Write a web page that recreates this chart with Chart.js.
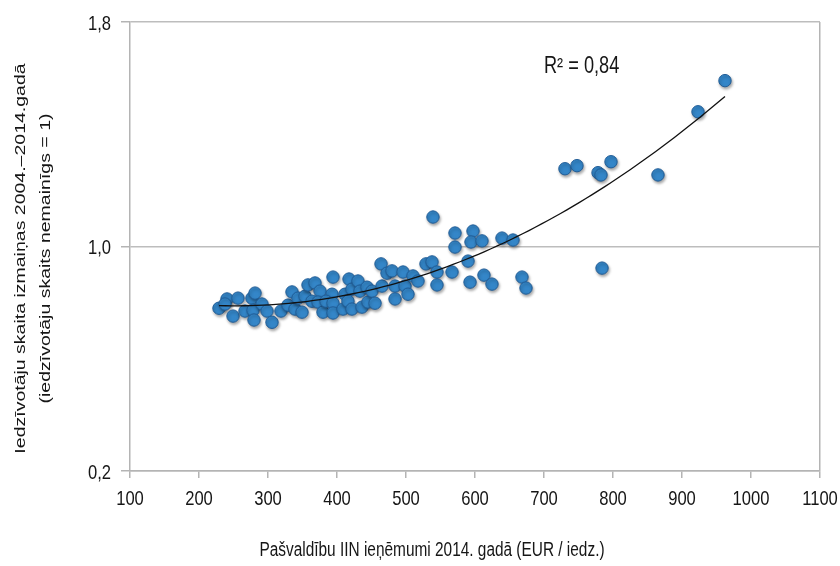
<!DOCTYPE html>
<html>
<head>
<meta charset="utf-8">
<script src="https://cdn.jsdelivr.net/npm/chart.js@4/dist/chart.umd.min.js"></script>
<style>
  html, body { margin: 0; padding: 0; background: #ffffff; }
  #wrap { width: 840px; height: 566px; }
</style>
</head>
<body>
<div id="wrap"><canvas id="chart" width="840" height="566"></canvas></div>
<script>
// Municipal personal income tax revenue per resident, 2014 (EUR)
const incomePerCapita = [
  229.0, 240.6, 237.7, 249.3, 256.5, 266.7, 276.8, 281.2, 278.3, 279.7,
  291.3, 298.6, 305.8, 318.8, 329.0, 334.8, 339.1, 343.5, 349.3, 353.6,
  358.0, 368.1, 375.4, 363.8, 372.5, 379.7, 394.2, 392.8, 384.1, 394.2,
  394.2, 408.7, 411.6, 417.4, 421.7, 415.9, 421.7, 430.4, 433.3, 436.2,
  443.5, 444.9, 450.7, 455.1, 463.8, 465.2, 472.5, 479.7, 484.1, 484.1,
  495.7, 498.6, 502.9, 510.1, 517.4, 529.0, 537.7, 544.9, 544.9, 566.7,
  589.9, 592.8, 613.0, 624.6, 668.1, 673.9, 539.1, 571.0, 571.0, 597.1,
  594.2, 610.1, 639.1, 655.1, 730.4, 747.8, 778.3, 782.6, 797.1, 865.2,
  784.1, 923.2, 962.3
];
// Population 2014 relative to 2004 (unchanged = 1)
const populationIndex = [
  0.780, 0.813, 0.795, 0.752, 0.816, 0.770, 0.816, 0.834, 0.773, 0.738,
  0.795, 0.770, 0.730, 0.770, 0.791, 0.838, 0.777, 0.816, 0.766, 0.823,
  0.863, 0.870, 0.841, 0.805, 0.802, 0.766, 0.891, 0.830, 0.805, 0.798,
  0.763, 0.777, 0.830, 0.884, 0.848, 0.805, 0.777, 0.877, 0.841, 0.784,
  0.855, 0.802, 0.841, 0.798, 0.938, 0.859, 0.905, 0.913, 0.859, 0.813,
  0.909, 0.859, 0.830, 0.895, 0.877, 0.938, 0.945, 0.909, 0.863, 0.909,
  0.948, 0.873, 0.898, 0.866, 0.891, 0.852, 1.105, 1.048, 0.998, 1.055,
  1.016, 1.020, 1.030, 1.023, 1.277, 1.288, 1.263, 1.255, 1.302, 1.255,
  0.923, 1.480, 1.591
];

const xTicks = [100, 200, 300, 400, 500, 600, 700, 800, 900, 1000, 1100];
const yTicks = [0.2, 1.0, 1.8];

const xTitle = 'Pašvaldību IIN ieņēmumi 2014. gadā (EUR / iedz.)';
const yTitle = ['Iedzīvotāju skaita izmaiņas 2004.–2014.gadā', '(iedzīvotāju skaits nemainīgs = 1)'];
const r2Label = 'R² = 0,84';

// Scatter points
const points = incomePerCapita.map((x, i) => ({ x, y: populationIndex[i] }));

// Second-order polynomial trend line, least squares on the points above
function quadraticFit(xs, ys) {
  const s = 1000; // rescale x for numerical stability
  const S = [0, 0, 0, 0, 0], T = [0, 0, 0];
  xs.forEach((xv, i) => {
    const u = xv / s, y = ys[i];
    let p = 1;
    for (let k = 0; k < 5; k++) { S[k] += p; if (k < 3) T[k] += p * y; p *= u; }
  });
  const A = [[S[0], S[1], S[2], T[0]], [S[1], S[2], S[3], T[1]], [S[2], S[3], S[4], T[2]]];
  for (let c = 0; c < 3; c++) {
    for (let r = c + 1; r < 3; r++) {
      const f = A[r][c] / A[c][c];
      for (let k = c; k < 4; k++) A[r][k] -= f * A[c][k];
    }
  }
  const b = [0, 0, 0];
  for (let r = 2; r >= 0; r--) {
    let v = A[r][3];
    for (let k = r + 1; k < 3; k++) v -= A[r][k] * b[k];
    b[r] = v / A[r][r];
  }
  return x => b[0] + b[1] * (x / s) + b[2] * (x / s) * (x / s);
}
const trend = quadraticFit(incomePerCapita, populationIndex);
const xMin = Math.min(...incomePerCapita), xMax = Math.max(...incomePerCapita);
const trendPoints = [];
for (let i = 0; i <= 80; i++) {
  const x = xMin + (xMax - xMin) * i / 80;
  trendPoints.push({ x, y: trend(x) });
}

const baseFont = '"Liberation Sans", Arial, Helvetica, sans-serif';
const condense = 0.79;          // horizontal squeeze of the lettering
const textColor = '#161616';
const axisGray = '#b4b4b4';

const fmtY = v => v.toFixed(1).replace('.', ',');
const fmtX = v => String(v);

// Soft drop shadow under the markers
const markerShadow = {
  id: 'markerShadow',
  beforeDatasetDraw(chart, args) {
    if (args.index !== 1) return;
    const ctx = chart.ctx;
    ctx.save();
    ctx.shadowColor = 'rgba(0,0,0,0.35)';
    ctx.shadowBlur = 3;
    ctx.shadowOffsetX = 1;
    ctx.shadowOffsetY = 2;
  },
  afterDatasetDraw(chart, args) {
    if (args.index !== 1) return;
    chart.ctx.restore();
  }
};

// Condensed text: tick labels, axis titles and the R² note
function squeezedText(ctx, text, x, y, align, baseline) {
  ctx.save();
  ctx.translate(x, y);
  ctx.scale(condense, 1);
  ctx.textAlign = align;
  ctx.textBaseline = baseline;
  ctx.fillText(text, 0, 0);
  ctx.restore();
}

const lettering = {
  id: 'lettering',
  afterDraw(chart) {
    const { ctx, chartArea, scales } = chart;
    ctx.save();
    ctx.fillStyle = textColor;

    // tick labels
    ctx.font = '21px ' + baseFont;
    scales.x.ticks.forEach(t => {
      squeezedText(ctx, fmtX(t.value), scales.x.getPixelForValue(t.value), chartArea.bottom + 34, 'center', 'alphabetic');
    });
    scales.y.ticks.forEach(t => {
      squeezedText(ctx, fmtY(t.value), chartArea.left - 19, scales.y.getPixelForValue(t.value) + 7.5, 'right', 'alphabetic');
    });

    // x-axis title
    ctx.font = '19.5px ' + baseFont;
    squeezedText(ctx, xTitle, chartArea.left + 302, chartArea.bottom + 80, 'center', 'middle');

    // y-axis title, two lines, rotated
    ctx.font = '19.5px ' + baseFont;
    const cy = (chartArea.top + chartArea.bottom) / 2 + 12;
    [21, 46].forEach((x, i) => {
      ctx.save();
      ctx.translate(x, cy);
      ctx.rotate(-Math.PI / 2);
      ctx.scale(1, condense);
      ctx.textAlign = 'center';
      ctx.textBaseline = 'middle';
      ctx.fillText(yTitle[i], 0, 0);
      ctx.restore();
    });

    // coefficient of determination
    ctx.font = '23px ' + baseFont;
    squeezedText(ctx, r2Label, scales.x.getPixelForValue(700), scales.y.getPixelForValue(1.64), 'left', 'middle');

    ctx.restore();
  }
};

new Chart(document.getElementById('chart'), {
  data: {
    datasets: [
      {
        type: 'line',
        data: trendPoints,
        borderColor: '#111111',
        borderWidth: 1.3,
        pointRadius: 0,
        fill: false,
        tension: 0
      },
      {
        type: 'scatter',
        data: points,
        pointRadius: 6.2,
        pointBackgroundColor: 'rgb(52,134,200)',
        pointBorderColor: 'rgb(32,92,150)',
        pointBorderWidth: 1
      }
    ]
  },
  options: {
    responsive: false,
    animation: false,
    devicePixelRatio: 1,
    layout: { padding: { left: 0, right: 20, top: 22, bottom: 0 } },
    plugins: { legend: { display: false }, tooltip: { enabled: false } },
    scales: {
      x: {
        type: 'linear',
        min: 100,
        max: 1100,
        afterBuildTicks: s => { s.ticks = xTicks.map(v => ({ value: v })); },
        afterFit: s => { s.height = 95; },
        grid: {
          color: c => (c.tick && c.tick.value === 1100 ? axisGray : 'rgba(0,0,0,0)'),
          tickColor: axisGray,
          tickLength: 7,
          lineWidth: 1.5
        },
        border: { color: axisGray, width: 1.5 },
        ticks: { display: false, autoSkip: false }
      },
      y: {
        type: 'linear',
        min: 0.2,
        max: 1.8,
        afterBuildTicks: s => { s.ticks = yTicks.map(v => ({ value: v })); },
        afterFit: s => { s.width = 130; },
        grid: {
          color: '#bdbdbd',
          tickColor: axisGray,
          tickLength: 9,
          lineWidth: 1.5
        },
        border: { color: axisGray, width: 1.5 },
        ticks: { display: false }
      }
    }
  },
  plugins: [markerShadow, lettering]
});
</script>
</body>
</html>
